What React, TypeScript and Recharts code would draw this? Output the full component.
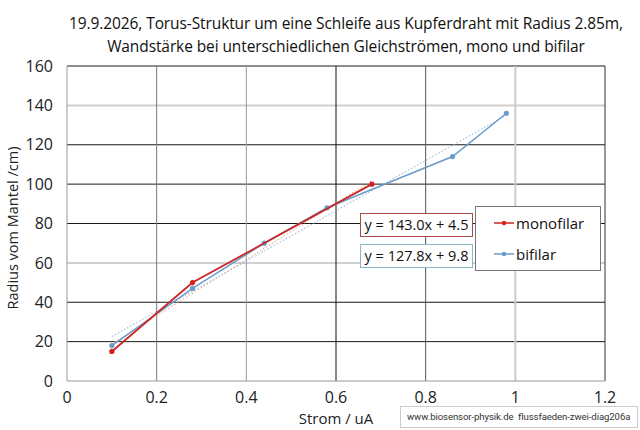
import {
  ComposedChart,
  Scatter,
  XAxis,
  YAxis,
  ReferenceLine,
} from 'recharts';

const monoX = [0.1, 0.28, 0.68];
const monoY = [15, 50, 100];
const biX = [0.1, 0.28, 0.44, 0.58, 0.86, 0.98];
const biY = [18, 47, 70, 88, 114, 136];

// trendline coefficients as printed in the chart
const monoFit = [143.0, 4.5];
const biFit = [127.8, 9.8];

const xTicks = [0, 0.2, 0.4, 0.6, 0.8, 1, 1.2];
const yTicks = [0, 20, 40, 60, 80, 100, 120, 140, 160];

const FONT = '"Open Sans", "Noto Sans", sans-serif';
const RED = '#d42020';
const BLUE = '#6b9bcb';

const monoData = monoX.map((x, i) => ({ x, y: monoY[i] }));
const biData = biX.map((x, i) => ({ x, y: biY[i] }));

function fitSegment(xs: number[], fit: number[]) {
  const x1 = xs[0];
  const x2 = xs[xs.length - 1];
  return [
    { x: x1, y: fit[0] * x1 + fit[1] },
    { x: x2, y: fit[0] * x2 + fit[1] },
  ];
}

// grid styling per gridline, like the original spreadsheet export
const hGrid: Record<number, [string, number]> = {
  20: ['#1a1a1a', 1],
  40: ['#1a1a1a', 1],
  60: ['#d0d0d0', 2],
  80: ['#1a1a1a', 1],
  100: ['#1a1a1a', 1],
  120: ['#1a1a1a', 1],
  140: ['#d0d0d0', 2],
  160: ['#1a1a1a', 1],
};
const vGrid: Record<number, [string, number]> = {
  0.2: ['#777777', 1],
  0.4: ['#999999', 1],
  0.6: ['#111111', 1],
  0.8: ['#555555', 1],
  1: ['#cccccc', 2],
  1.2: ['#333333', 1],
};

function Dot({ cx, cy, fill }: { cx?: number; cy?: number; fill?: string }) {
  if (cx == null || cy == null) return null;
  return <circle cx={cx} cy={cy} r={2.6} fill={fill} stroke="none" />;
}

export default function App() {
  return (
    <div style={{ position: 'absolute', left: 0, top: 0, width: 640, height: 430, background: '#fff', fontFamily: FONT }}>
      <div style={{ position: 'absolute', left: 0, width: 692, top: 12, textAlign: 'center', fontSize: 15.5, lineHeight: '23px', color: '#111', letterSpacing: -0.1 }}>
        19.9.2026, Torus-Struktur um eine Schleife aus Kupferdraht mit Radius 2.85m,
        <br />
        Wandstärke bei unterschiedlichen Gleichströmen, mono und bifilar
      </div>
      <ComposedChart
        width={640}
        height={430}
        margin={{ top: 66, right: 35, bottom: 19, left: 0 }}
        style={{ position: 'absolute', left: 0, top: 0 }}
      >
        <XAxis
          dataKey="x"
          type="number"
          domain={[0, 1.2]}
          ticks={xTicks}
          tickFormatter={(v: number) => String(v)}
          height={30}
          tickLine={false}
          axisLine={{ stroke: '#999999' }}
          tick={{ fontSize: 16, fill: '#222', fontFamily: FONT }}
          tickMargin={5}
          label={{ value: 'Strom / uA', position: 'insideBottom', offset: -13, fontSize: 15, fill: '#222', fontFamily: FONT }}
        />
        <YAxis
          dataKey="y"
          type="number"
          domain={[0, 160]}
          ticks={yTicks}
          width={67}
          tickLine={false}
          axisLine={{ stroke: '#999999' }}
          tick={{ fontSize: 16, fill: '#222', fontFamily: FONT }}
          tickMargin={8}
          label={{ value: 'Radius vom Mantel /cm)', angle: -90, position: 'insideLeft', dx: 8, dy: 86, fontSize: 14.5, fill: '#222', fontFamily: FONT }}
        />
        {yTicks.filter((t) => hGrid[t]).map((t) => (
          <ReferenceLine key={'h' + t} y={t} stroke={hGrid[t][0]} strokeWidth={hGrid[t][1]} />
        ))}
        {xTicks.filter((t) => vGrid[t]).map((t) => (
          <ReferenceLine key={'v' + t} x={t} stroke={vGrid[t][0]} strokeWidth={vGrid[t][1]} />
        ))}
        <ReferenceLine segment={fitSegment(monoX, monoFit)} stroke="#e89a70" strokeWidth={1} strokeDasharray="1.5 2" />
        <ReferenceLine segment={fitSegment(biX, biFit)} stroke="#7fb2dc" strokeWidth={1} strokeDasharray="1.5 2" />
        <Scatter
          name="bifilar"
          data={biData}
          fill={BLUE}
          line={{ stroke: BLUE, strokeWidth: 1.5 }}
          shape={<Dot fill={BLUE} />}
          isAnimationActive={false}
        />
        <Scatter
          name="monofilar"
          data={monoData}
          fill={RED}
          line={{ stroke: '#c82828', strokeWidth: 1.8 }}
          shape={<Dot fill={RED} />}
          isAnimationActive={false}
        />
      </ComposedChart>
      <div style={{ position: 'absolute', left: 360, top: 213, width: 111, height: 22, border: '1px solid #a84a4a', background: '#fff', fontSize: 14.5, lineHeight: '22px', textAlign: 'center', color: '#111' }}>
        y = 143.0x + 4.5
      </div>
      <div style={{ position: 'absolute', left: 360, top: 244, width: 111, height: 22, border: '1px solid #8ab8c8', background: '#fff', fontSize: 14.5, lineHeight: '22px', textAlign: 'center', color: '#111' }}>
        y = 127.8x + 9.8
      </div>
      <div style={{ position: 'absolute', left: 475, top: 206, width: 124, height: 63, border: '1px solid #777', background: '#fff', fontSize: 15, color: '#111' }}>
        {[['monofilar', RED], ['bifilar', BLUE]].map(([name, c], i) => (
          <div key={name} style={{ position: 'absolute', left: 18, top: 5 + i * 31, display: 'flex', alignItems: 'center', height: 22 }}>
            <svg width={20} height={10}>
              <line x1={0} y1={5} x2={20} y2={5} stroke={c} strokeWidth={1.5} />
              <circle cx={10} cy={5} r={2.2} fill={c} />
            </svg>
            <span style={{ marginLeft: 2 }}>{name}</span>
          </div>
        ))}
      </div>
      <div style={{ position: 'absolute', left: 400, top: 406, width: 238, height: 22, border: '1px solid #ccc', background: '#fff', fontSize: 9.6, fontFamily: 'Roboto, sans-serif', lineHeight: '20px', paddingLeft: 6, color: '#333', boxSizing: 'border-box', whiteSpace: 'nowrap', overflow: 'hidden', letterSpacing: -0.1 }}>
        www.biosensor-physik.de&nbsp; flussfaeden-zwei-diag206a
      </div>
    </div>
  );
}
